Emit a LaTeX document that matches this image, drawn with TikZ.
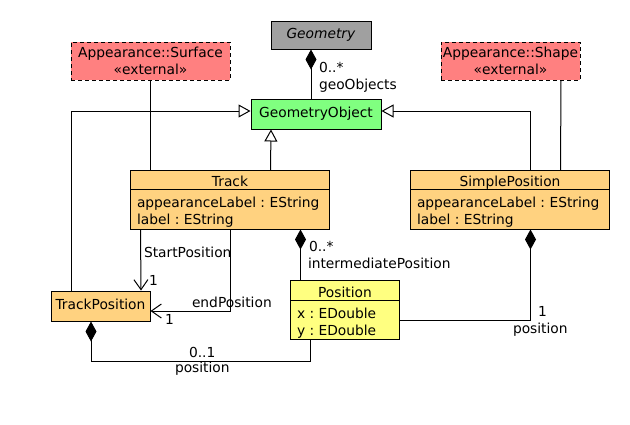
\documentclass[tikz,border=0pt]{standalone}
\usepackage{fontspec}
\setmainfont{DejaVu Sans}
\usetikzlibrary{arrows.meta}
\definecolor{geomgray}{RGB}{160,160,160}
\definecolor{extred}{RGB}{255,128,128}
\definecolor{objgreen}{RGB}{128,255,128}
\definecolor{clsorange}{RGB}{255,210,128}
\definecolor{posyellow}{RGB}{255,255,128}
\newcommand{\umlfont}{\fontsize{13.8pt}{17pt}\selectfont\frenchspacing}

\begin{document}
\begin{tikzpicture}
      [x=1pt,y=-1pt,line width=1pt,
       every node/.style={font=\umlfont,inner sep=0pt},
       head/.style={draw,fill=#1,anchor=north west,outer sep=0pt,minimum height=19pt,text height=13.5pt,text depth=0pt},
       attrs/.style={draw,fill=#1,anchor=north west,outer sep=0pt,align=flush left,inner xsep=6.5pt,minimum height=40pt,text depth=14pt},
       single/.style={draw,fill=#1,anchor=north west,minimum height=30pt,text height=10.5pt,text depth=3.3pt},
       external/.style={draw,fill=extred,anchor=north west,align=center,dash pattern=on 4pt off 3pt,minimum height=38pt,text depth=0pt},
       gen/.style={-{Triangle[open,length=12pt,width=13pt]}},
       comp/.style={{Diamond[length=20pt,width=11pt]}-},
       nav/.style={-{Straight Barb[length=10pt,width=14pt]}},
       role/.style={anchor=base west}]
      \useasboundingbox (-0.5,-0.5) rectangle (629.5,423.5);
      \node[single=geomgray,minimum width=100pt,minimum height=28pt] (geometry) at (270,20) {\textit{Geometry}} ;
      \node[single=objgreen,minimum width=130pt] (geoobject) at (250,98) {GeometryObject} ;
      \node[external,minimum width=159pt] (surface) at (70,41) {Appearance::Surface\\«external»} ;
      \node[external,minimum width=139pt] (shape) at (440,41) {Appearance::Shape\\«external»} ;
      \node[head=clsorange,minimum width=199pt] (trackhead) at (130,170) {Track} ;
      \node[attrs=clsorange,text width=186pt] (trackbody) at (trackhead.south west) {appearanceLabel : EString\\label : EString} ;
      \node[head=clsorange,minimum width=199pt] (simplehead) at (410,170) {SimplePosition} ;
      \node[attrs=clsorange,text width=186pt] (simplebody) at (simplehead.south west) {appearanceLabel : EString\\label : EString} ;
      \node[single=clsorange,minimum width=99pt] (trackpos) at (50,290) {TrackPosition} ;
      \node[head=posyellow,minimum width=109pt,minimum height=20pt] (poshead) at (290,280) {Position} ;
      \node[attrs=posyellow,text width=96pt,minimum height=39pt] (posbody) at (poshead.south west) {x : EDouble\\y : EDouble} ;
      \coordinate (startfrom) at ([xshift=-89.5pt]trackbody.south) ;
      \coordinate (startto) at ([xshift=40.5pt]trackpos.north) ;
      \draw[comp] ([xshift=-10pt]geometry.south) to ([xshift=-5pt]geoobject.north) ;
      \draw[gen] ([xshift=40.5pt]trackhead.north) to ([xshift=-45pt]geoobject.south) ;
      \draw[gen] ([xshift=-29.5pt]trackpos.north) |- ([yshift=3pt]geoobject.west) ;
      \draw[gen] ([xshift=20.5pt]simplehead.north) |- ([yshift=3pt]geoobject.east) ;
      \draw (surface.south) to ([xshift=-79.5pt]trackhead.north) ;
      \draw ([xshift=50.5pt]shape.south) to ([xshift=50.5pt]simplehead.north) ;
      \draw[nav] (startfrom) to (startto) ;
      \draw[nav] (trackbody.south) |- ([yshift=-5pt]trackpos.east) ;
      \draw[comp] ([xshift=70.5pt]trackbody.south) to ([xshift=-44.5pt]poshead.north) ;
      \draw[comp] ([xshift=20.5pt]simplebody.south) |- (posbody.east) ;
      \draw[comp] ([xshift=-9.5pt]trackpos.south) -- ++(0,40) -| ([xshift=-34.5pt]posbody.south) ;
      \node[role] (geomult) at (318,72) {0..*} ;
      \node[role] (geoname) at (318,89) {geoObjects} ;
      \node[role] (startname) at (143,257) {StartPosition} ;
      \node[role] (startmult) at (148,285) {1} ;
      \node[role] (endname) at (191,307) {endPosition} ;
      \node[role] (endmult) at (164,324) {1} ;
      \node[role] (intermult) at (308,251) {0..*} ;
      \node[role] (intername) at (307,268) {intermediatePosition} ;
      \node[role] (simplemult) at (537,316) {1} ;
      \node[role] (simplename) at (512,333) {position} ;
      \node[role] (trackmult) at (188,357) {0..1} ;
      \node[role] (trackname) at (174,372) {position} ;
    \end{tikzpicture}
\end{document}
